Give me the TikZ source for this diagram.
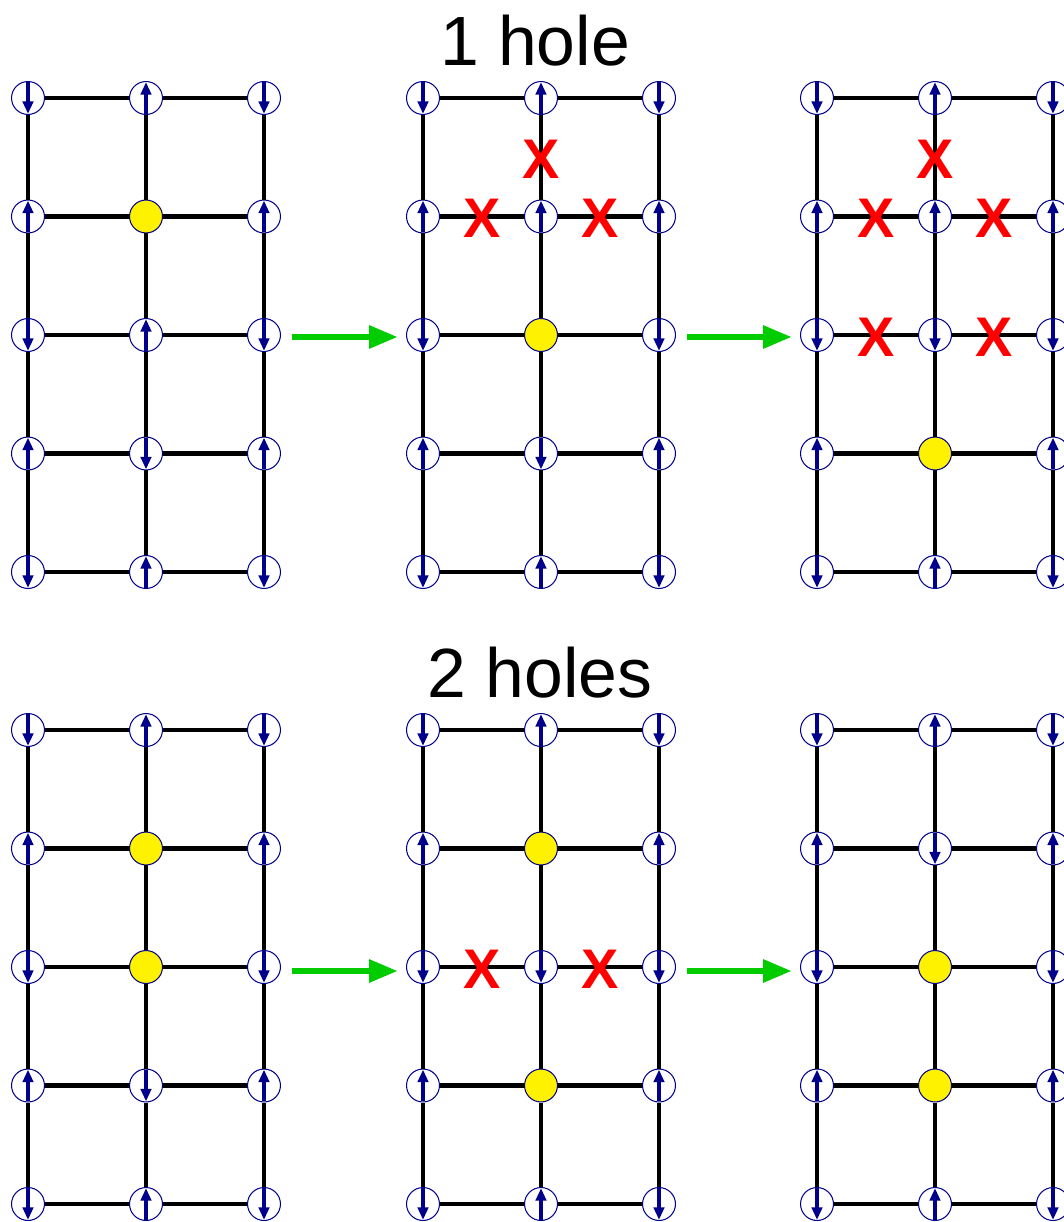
\documentclass[tikz,border=0pt]{standalone}
\usepackage{fontspec}
\setmainfont{Liberation Sans}
\usetikzlibrary{arrows.meta,calc}

\definecolor{spinblue}{RGB}{0,0,140}
\definecolor{hopgreen}{RGB}{0,204,0}

\tikzset{
  bond/.style={line width=2.3pt},
  spin/.style={draw=spinblue, line width=1.6pt, -{Triangle[length=6pt,width=5pt]}},
  site/.style={circle, draw=spinblue, line width=0.5pt, fill=white, minimum size=0.56cm, inner sep=0pt},
  siteU/.style={site, path picture={\draw[spin] ([yshift=0.3pt]path picture bounding box.south) -- ([yshift=-0.3pt]path picture bounding box.north);}},
  siteD/.style={site, path picture={\draw[spin] ([yshift=-0.3pt]path picture bounding box.north) -- ([yshift=0.3pt]path picture bounding box.south);}},
  siteH/.style={site, fill=yellow},
  cut/.style={text=red, font=\bfseries\fontsize{27pt}{30pt}\selectfont, inner sep=0pt, yshift=-1pt},
  title/.style={anchor=base, font=\fontsize{33.7pt}{40pt}\selectfont, inner sep=0pt},
  hop/.style={draw=hopgreen, line width=3.2pt, -{Triangle[length=14pt,width=10.5pt]}}
}

% name, x, y, spins row by row, cut bonds
\newcommand{\lattice}[5]{%
  \foreach \s [count=\i from 0] in {#4} {
    \pgfmathtruncatemacro{\rw}{\i/3}
    \pgfmathtruncatemacro{\cl}{mod(\i,3)}
    \node[site\s] (#1-\rw-\cl) at ({#2+118*\cl},{#3+118.5*\rw}) {};
  }
  \foreach \rw in {0,...,4} {
    \draw[bond] (#1-\rw-0) -- (#1-\rw-1) -- (#1-\rw-2);
  }
  \foreach \cl in {0,1,2} {
    \draw[bond] (#1-0-\cl) -- (#1-1-\cl) -- (#1-2-\cl) -- (#1-3-\cl) -- (#1-4-\cl);
  }
  \foreach \p/\q in {#5}
    \node[cut] at ($(#1-\p)!0.5!(#1-\q)$) {X};
}

\begin{document}
\begin{tikzpicture}[x=0.017cm, y=-0.017cm]
\useasboundingbox (0,0) rectangle (1064,1222);

\node[title] (one) at (535,66) {1 hole};
\node[title] (two) at (540,697) {2 holes};

\lattice{a}{28}{98}{D,U,D, U,H,U, D,U,D, U,D,U, D,U,D}{}
\lattice{b}{423}{98}{D,U,D, U,U,U, D,H,D, U,D,U, D,U,D}{0-1/1-1, 1-0/1-1, 1-1/1-2}
\lattice{c}{817}{98}{D,U,D, U,U,U, D,D,D, U,H,U, D,U,D}{0-1/1-1, 1-0/1-1, 1-1/1-2, 2-0/2-1, 2-1/2-2}

\lattice{d}{28}{730}{D,U,D, U,H,U, D,H,D, U,D,U, D,U,D}{}
\lattice{e}{423}{730}{D,U,D, U,H,U, D,D,D, U,H,U, D,U,D}{2-0/2-1, 2-1/2-2}
\lattice{f}{817}{730}{D,U,D, U,D,U, D,H,D, U,H,U, D,U,D}{}

\coordinate (ab1) at (292,337);
\coordinate (ab2) at (398,337);
\coordinate (bc1) at (687,337);
\coordinate (bc2) at (792,337);
\coordinate (de1) at (292,971);
\coordinate (de2) at (398,971);
\coordinate (ef1) at (687,971);
\coordinate (ef2) at (792,971);

\draw[hop] (ab1) -- (ab2);
\draw[hop] (bc1) -- (bc2);
\draw[hop] (de1) -- (de2);
\draw[hop] (ef1) -- (ef2);
\end{tikzpicture}
\end{document}
